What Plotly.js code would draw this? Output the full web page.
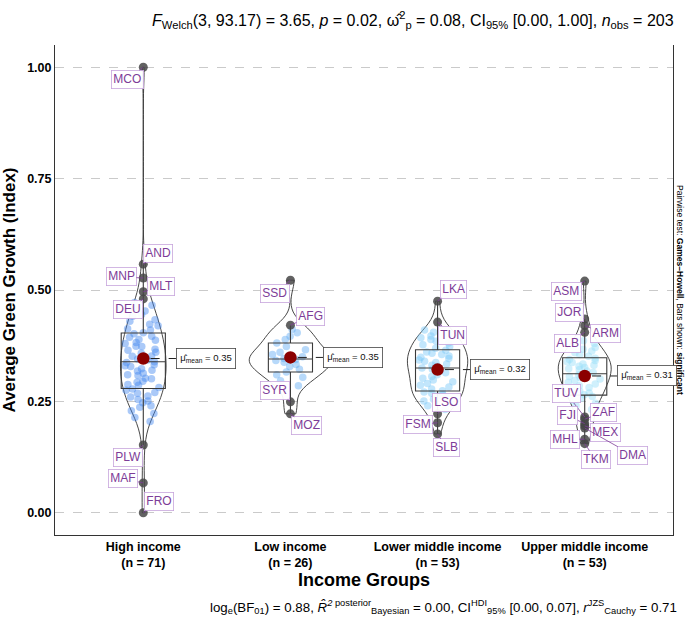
<!DOCTYPE html>
<html>
<head>
<meta charset="utf-8">
<script src="https://cdn.plot.ly/plotly-3.0.1.min.js"></script>
<style>html,body{margin:0;padding:0;background:#fff;}#chart{width:685px;height:625px;}</style>
</head>
<body>
<div id="chart"></div>
<script>
// ---------------- DATA ----------------
const categories = ['High income', 'Low income', 'Lower middle income', 'Upper middle income'];

const highValues = [0.205, 0.214, 0.223, 0.229, 0.237, 0.240, 0.247, 0.251, 0.254, 0.260, 0.262, 0.268, 0.270, 0.275, 0.278,
  0.281, 0.286, 0.288, 0.293, 0.295, 0.301, 0.302, 0.308, 0.310, 0.313, 0.318, 0.320, 0.323, 0.328, 0.330, 0.332, 0.337, 0.339,
  0.343, 0.345, 0.351, 0.352, 0.358, 0.360, 0.365, 0.367, 0.373, 0.374, 0.380, 0.382, 0.387, 0.389, 0.394, 0.396, 0.402, 0.404,
  0.410, 0.413, 0.420, 0.423, 0.430, 0.433, 0.441, 0.445, 0.453, 0.457, 0.466, 0.472];
const highOutlierCodes = ['MCO', 'AND', 'MNP', 'MLT', 'DEU', 'PLW', 'MAF', 'FRO'];
const highOutlierValues = [1.00, 0.558, 0.527, 0.496, 0.480, 0.152, 0.067, 0.000];

const lowValues = [0.285, 0.296, 0.304, 0.310, 0.316, 0.322, 0.328, 0.333, 0.338, 0.342, 0.344,
  0.346, 0.350, 0.355, 0.360, 0.366, 0.373, 0.381, 0.389, 0.396, 0.404, 0.412];
const lowOutlierCodes = ['SSD', 'AFG', 'SYR', 'MOZ'];
const lowOutlierValues = [0.522, 0.421, 0.249, 0.222];

const lowerMidValues = [0.232, 0.240, 0.246, 0.251, 0.255, 0.259, 0.262, 0.265, 0.268, 0.271, 0.274,
  0.278, 0.282, 0.286, 0.290, 0.294, 0.298, 0.302, 0.306, 0.310, 0.314, 0.318, 0.322, 0.325,
  0.328, 0.331, 0.334, 0.337, 0.340, 0.343, 0.346, 0.349, 0.352, 0.355, 0.358, 0.361, 0.365,
  0.369, 0.373, 0.377, 0.381, 0.385, 0.389, 0.393, 0.397, 0.401, 0.405, 0.410];
const lowerMidOutlierCodes = ['LKA', 'TUN', 'LSO', 'FSM', 'SLB'];
const lowerMidOutlierValues = [0.475, 0.428, 0.222, 0.202, 0.177];

const upperMidValues = [0.232, 0.240, 0.246, 0.252, 0.257, 0.261, 0.265,
  0.269, 0.273, 0.277, 0.281, 0.285, 0.289, 0.293, 0.297, 0.300, 0.303, 0.306, 0.309, 0.312,
  0.315, 0.318, 0.321, 0.323, 0.326, 0.329, 0.331, 0.334, 0.337, 0.339, 0.342, 0.344, 0.347,
  0.351, 0.355, 0.359, 0.363, 0.367, 0.371, 0.375, 0.380, 0.386];
const upperMidOutlierCodes = ['ASM', 'JOR', 'ARM', 'ALB', 'TUV', 'ZAF', 'FJI', 'MEX', 'DMA', 'MHL', 'TKM'];
const upperMidOutlierValues = [0.520, 0.435, 0.420, 0.405, 0.215, 0.210, 0.200, 0.195, 0.190, 0.165, 0.155];

const yTickValues = [0, 0.25, 0.5, 0.75, 1.0];
const yTickLabels = ['0.00', '0.25', '0.50', '0.75', '1.00'];

// ---------------- STYLE ----------------
const pointColors = ['rgba(66,135,240,0.45)', 'rgba(95,170,245,0.45)', 'rgba(120,200,248,0.45)', 'rgba(150,222,248,0.45)'];
const violinWidths = [0.31, 0.56, 0.41, 0.36];
const labelOffsets = {
  MCO: [-16, 12], AND: [15, -11], MNP: [-22, -1], MLT: [18, -5], DEU: [-15, 11], PLW: [-15, 12], MAF: [-20, -4], FRO: [16, -11],
  SSD: [-15, 13], AFG: [20, -9], SYR: [-15, -11], MOZ: [16, 12],
  LKA: [16, -12], TUN: [15, 13], LSO: [9, -11], FSM: [-20, 2], SLB: [9, 14],
  ASM: [-18, 10], JOR: [-15, -6], ARM: [21, 8], ALB: [-17, 11], TUV: [-18, -23], ZAF: [19, -7], FJI: [-17, -8],
  MEX: [21, 7], DMA: [48, 27], MHL: [-20, 0], TKM: [11, 16]
};
const FONT = 'Liberation Sans, Arial, Helvetica, sans-serif';
const labelPurple = '#7d3c98';

// ---------------- BUILD ----------------
const groups = [
  {vals: highValues, codes: highOutlierCodes, ovals: highOutlierValues},
  {vals: lowValues, codes: lowOutlierCodes, ovals: lowOutlierValues},
  {vals: lowerMidValues, codes: lowerMidOutlierCodes, ovals: lowerMidOutlierValues},
  {vals: upperMidValues, codes: upperMidOutlierCodes, ovals: upperMidOutlierValues}
];

function quantile(sorted, p) {
  const h = (sorted.length - 1) * p, lo = Math.floor(h), hi = Math.ceil(h);
  return sorted[lo] + (h - lo) * (sorted[hi] - sorted[lo]);
}
function nrd0(arr) {
  const n = arr.length;
  const m = arr.reduce((a, b) => a + b, 0) / n;
  const sd = Math.sqrt(arr.reduce((a, b) => a + (b - m) * (b - m), 0) / (n - 1));
  const s = arr.slice().sort((a, b) => a - b);
  const iqr = quantile(s, 0.75) - quantile(s, 0.25);
  const lo = Math.min(sd, iqr / 1.34);
  return 0.9 * lo * Math.pow(n, -0.2);
}

const traces = [];
const annotations = [];
const shapes = [];
let nTotal = 0;
const allX = [], allY = [];
const means = [];

groups.forEach((g, i) => {
  const all = g.vals.concat(g.ovals);
  nTotal += all.length;
  const cat = categories[i];
  const xs = all.map(() => cat);
  all.forEach(v => { allX.push(cat); allY.push(v); });
  means.push(all.reduce((a, b) => a + b, 0) / all.length);

  traces.push({
    type: 'violin', x: xs, y: all, name: cat, showlegend: false,
    spanmode: 'hard', bandwidth: nrd0(all), scalemode: 'width', width: violinWidths[i],
    points: false, box: {visible: false}, meanline: {visible: false},
    line: {color: '#333333', width: 0.9}, fillcolor: 'rgba(0,0,0,0)', hoverinfo: 'skip'
  });
  traces.push({
    type: 'box', x: g.vals.map(() => cat), y: g.vals, name: cat + ' pts', showlegend: false,
    boxpoints: 'all', jitter: 1, pointpos: 0, width: 0.27,
    line: {width: 0, color: 'rgba(0,0,0,0)'}, fillcolor: 'rgba(0,0,0,0)',
    marker: {color: pointColors[i], size: 7.5, line: {width: 0}}, hoverinfo: 'y'
  });
});

traces.push({
  type: 'box', x: allX, y: allY, name: 'box', showlegend: false,
  boxpoints: 'outliers', width: 0.3, whiskerwidth: 0,
  line: {color: '#3a3a3a', width: 1.1}, fillcolor: 'rgba(0,0,0,0)',
  marker: {opacity: 0}, hoverinfo: 'skip'
});

groups.forEach((g, i) => {
  const cat = categories[i];
  traces.push({
    type: 'scatter', mode: 'markers', x: g.ovals.map(() => cat), y: g.ovals, showlegend: false,
    marker: {color: 'rgba(70,70,70,0.85)', size: 9}, text: g.codes, hoverinfo: 'text+y'
  });
  g.codes.forEach((c, k) => {
    const off = labelOffsets[c] || [15, -10];
    annotations.push({
      x: cat, y: g.ovals[k], xref: 'x', yref: 'y', text: c,
      showarrow: true, arrowhead: 0, arrowwidth: 0.8, arrowcolor: labelPurple, standoff: 0,
      ax: off[0], ay: off[1],
      font: {family: FONT, size: 12, color: labelPurple},
      bgcolor: 'rgba(255,255,255,0.95)', bordercolor: '#c7a5dc', borderwidth: 0.8, borderpad: 1.5
    });
  });
});

traces.push({
  type: 'scatter', mode: 'markers', x: categories, y: means, showlegend: false,
  marker: {color: '#8b0000', size: 12.5}, hoverinfo: 'y'
});

means.forEach((m, i) => {
  shapes.push({type: 'line', xref: 'x', yref: 'y', x0: i + 0.05, x1: i + 0.222, y0: m, y1: m,
    line: {color: '#222', width: 1, dash: 'dash'}});
  annotations.push({
    x: i + 0.222, y: m, xref: 'x', yref: 'y', xanchor: 'left', yanchor: 'middle',
    text: 'μ̂<sub>mean</sub> = ' + m.toFixed(2), showarrow: false,
    font: {family: FONT, size: 9.5, color: '#111'},
    bgcolor: '#ffffff', bordercolor: '#444', borderwidth: 0.8, borderpad: 3.5
  });
});

const tickText = categories.map((c, i) => c + '<br>(n = ' + (groups[i].vals.length + groups[i].ovals.length) + ')');

annotations.push({
  xref: 'paper', yref: 'paper', x: 0.628, y: -0.147, xanchor: 'center', yanchor: 'middle', showarrow: false,
  text: 'log<sub>e</sub>(BF<sub>01</sub>) = 0.88, <i>R̂</i><sup><i>2</i> posterior</sup><sub>Bayesian</sub> = 0.00, CI<sup>HDI</sup><sub>95%</sub> [0.00, 0.07], <i>r</i><sup>JZS</sup><sub>Cauchy</sub> = 0.71',
  font: {family: FONT, size: 13.3, color: '#000'}
});
annotations.push({
  xref: 'paper', yref: 'paper', x: 1.0113, y: 0.5, xanchor: 'center', yanchor: 'middle', showarrow: false,
  textangle: 90, text: 'Pairwise test: <b>Games–Howell</b>, Bars shown: <b>significant</b>',
  font: {family: FONT, size: 8.5, color: '#000'}
});

const layout = {
  width: 685, height: 625,
  margin: {l: 55, r: 12, t: 45, b: 90},
  paper_bgcolor: '#fff', plot_bgcolor: '#fff',
  showlegend: false,
  violinmode: 'overlay', boxmode: 'overlay',
  title: {
    text: '<i>F</i><sub>Welch</sub>(3, 93.17) = 3.65, <i>p</i> = 0.02, ω̂<sup>2</sup><sub>p</sub> = 0.08, CI<sub>95%</sub> [0.00, 1.00], <i>n</i><sub>obs</sub> = ' + nTotal,
    font: {family: FONT, size: 16, color: '#000'},
    xref: 'paper', x: 0.579, xanchor: 'center', yref: 'container', y: 0.968, yanchor: 'middle'
  },
  xaxis: {
    type: 'category', categoryorder: 'array', categoryarray: categories,
    tickvals: categories, ticktext: tickText, range: [-0.6, 3.6],
    showline: true, linecolor: '#333', linewidth: 1, showgrid: false, zeroline: false,
    ticks: '', tickfont: {family: FONT, size: 12.5, color: '#000', weight: 'bold'},
    title: {text: 'Income Groups', font: {family: FONT, size: 18, color: '#000', weight: 'bold'}, standoff: 3},
    automargin: false, fixedrange: true
  },
  yaxis: {
    range: [-0.05, 1.05], tickvals: yTickValues, ticktext: yTickLabels,
    showline: true, linecolor: '#333', linewidth: 1, mirror: true,
    showgrid: true, gridcolor: '#bdbdbd', gridwidth: 0.8, griddash: 'dash', zeroline: false,
    ticks: '', ticklen: 0, tickfont: {family: FONT, size: 12.5, color: '#000', weight: 'bold'},
    title: {text: 'Average Green Growth (Index)', font: {family: FONT, size: 17, color: '#000', weight: 'bold'}, standoff: 8},
    automargin: false, fixedrange: true
  },
  annotations: annotations,
  shapes: shapes
};

Plotly.newPlot('chart', traces, layout, {displayModeBar: false, staticPlot: true});
</script>
</body>
</html>
